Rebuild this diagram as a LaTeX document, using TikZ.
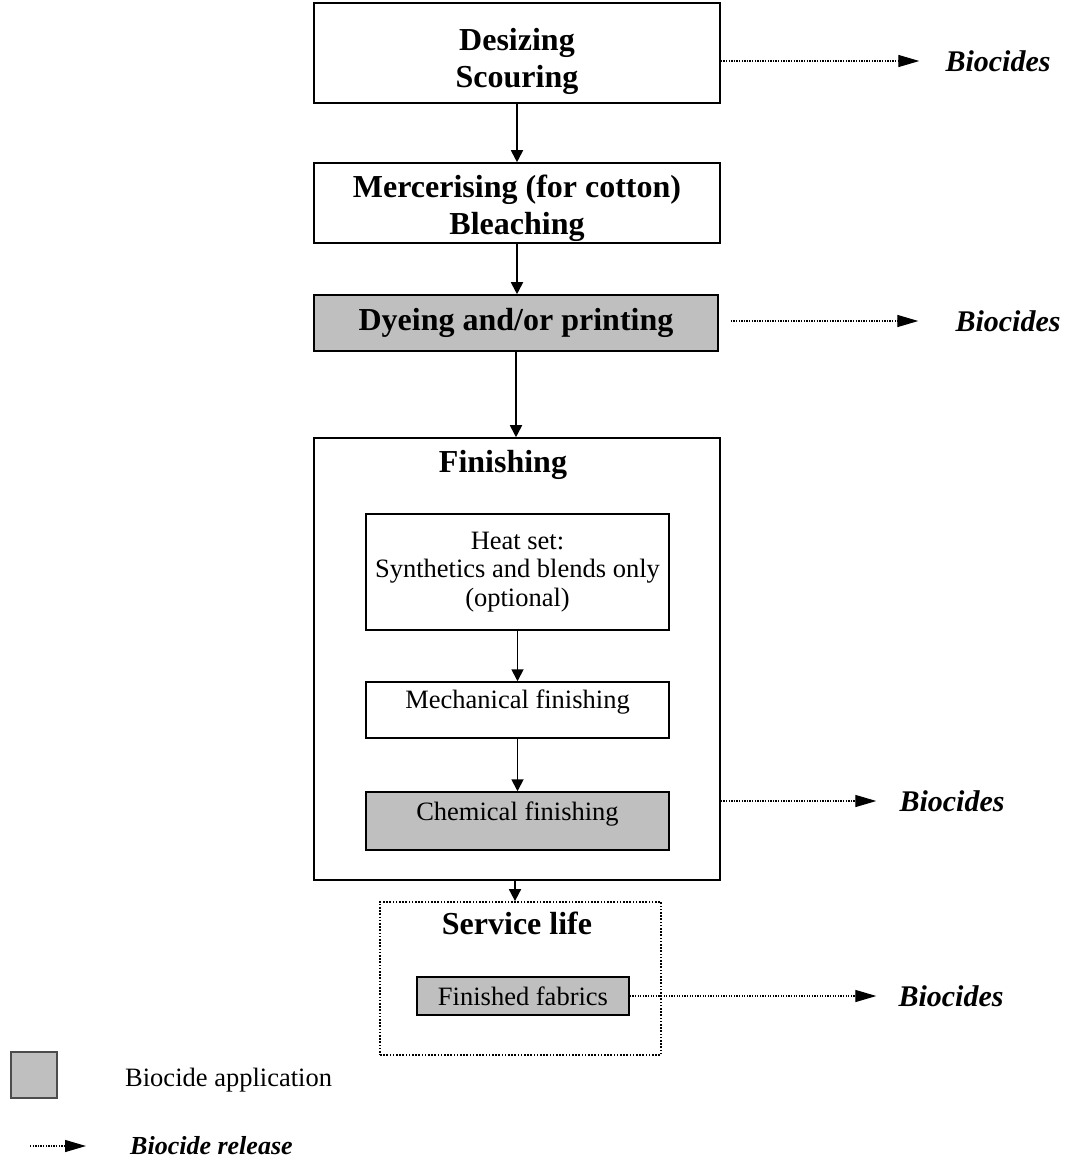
\documentclass[tikz,border=0pt]{standalone}
\usepackage{fontspec}
\setmainfont{Liberation Serif}
\usetikzlibrary{arrows.meta}

\begin{document}
\begin{tikzpicture}[x=1pt, y=-1pt, >={Triangle[length=12pt,width=12pt]},
  stage/.style={draw, line width=1.6pt, inner sep=0pt},
  sub/.style={draw, line width=1.5pt, font=\fontsize{26.5}{28.5}\selectfont, align=center, inner sep=0pt},
  app/.style={fill=black!25},
  title/.style={font=\fontsize{32}{37}\selectfont\bfseries, align=center, inner sep=0pt},
  txt/.style={font=\fontsize{26.5}{28.5}\selectfont, inner sep=0pt},
  bio/.style={font=\fontsize{30}{34}\selectfont\bfseries\itshape, inner sep=0pt},
  flow/.style={->, line width=1.8pt},
  release/.style={-{Triangle[length=21pt,width=12pt]}, line width=1.3pt, dash pattern=on 1.3pt off 1.3pt}]
  \useasboundingbox (0,0) rectangle (1066,1160);

  % main line
  \node[stage, minimum width=406pt, minimum height=100pt] (desize) at (517,53) {};
  \node[title] (desizetext) at (517,61) {Desizing\\Scouring};
  \node[stage, minimum width=406pt, minimum height=80pt] (merc) at (517,203) {};
  \node[title] (merctext) at (517,208) {Mercerising (for cotton)\\Bleaching};
  \node[stage, app, minimum width=404pt, minimum height=56pt] (dye) at (516,323) {};
  \node[title] (dyetext) at (516,323) {Dyeing and/or printing};

  % finishing
  \node[stage, minimum width=406pt, minimum height=442pt] (fin) at (517,659) {};
  \node[title] (fintitle) at (503,465) {Finishing};
  \node[sub, minimum width=303pt, minimum height=116pt] (heat) at (517.5,572) {Heat set:\\Synthetics and blends only\\(optional)};
  \node[sub, minimum width=303pt, minimum height=56pt] (mech) at (517.5,710) {};
  \node[txt] (mechtext) at (517.5,702) {Mechanical finishing};
  \node[sub, app, minimum width=303pt, minimum height=58pt] (chem) at (517.5,821) {};
  \node[txt] (chemtext) at (517.5,814) {Chemical finishing};

  % service life
  \node[draw, line width=1.8pt, dash pattern=on 1.6pt off 1.6pt, minimum width=281pt, minimum height=153pt, inner sep=0pt] (serv) at (520.5,978.5) {};
  \node[title] (servtitle) at (517,923) {Service life};
  \node[sub, app, minimum width=212pt, minimum height=38pt] (fab) at (523,996) {Finished fabrics};

  \draw[flow] (desize.south) -- (merc.north);
  \draw[flow] (merc.south) -- (merc.south |- dye.north);
  \draw[flow] (dye.south) -- (dye.south |- fin.north);
  \draw[flow] (heat.south) -- (mech.north);
  \draw[flow] (mech.south) -- (chem.north);
  \draw[flow] ([xshift=-2pt]fin.south) -- ([xshift=-2pt]fin.south |- serv.north);

  % releases
  \node[bio] (bio1) at (998,61) {Biocides};
  \node[bio] (bio2) at (1008,321) {Biocides};
  \node[bio] (bio3) at (952,801) {Biocides};
  \node[bio] (bio4) at (951,996) {Biocides};
  \draw[release, shorten >=26pt] (desize.east |- bio1) -- (bio1.west);
  \draw[release, shorten <=12pt, shorten >=37pt] (dye.east |- bio2) -- (bio2.west);
  \draw[release, shorten >=23pt] (fin.east |- bio3) -- (bio3.west);
  \draw[release, shorten >=22pt] (fab.east |- bio4) -- (bio4.west);

  % key
  \node[draw=black!70, line width=1.5pt, fill=black!25, minimum size=46pt, inner sep=0pt] (keybox) at (34,1075) {};
  \node[txt, anchor=west] (keytext) at (125,1080) {Biocide application};
  \coordinate (keystart) at (30,1146);
  \node[bio, font=\fontsize{26}{30}\selectfont\bfseries\itshape, anchor=west] (reltext) at (130,1146) {Biocide release};
  \draw[release, shorten >=44pt] (keystart) -- (keystart -| reltext.west);
\end{tikzpicture}
\end{document}
